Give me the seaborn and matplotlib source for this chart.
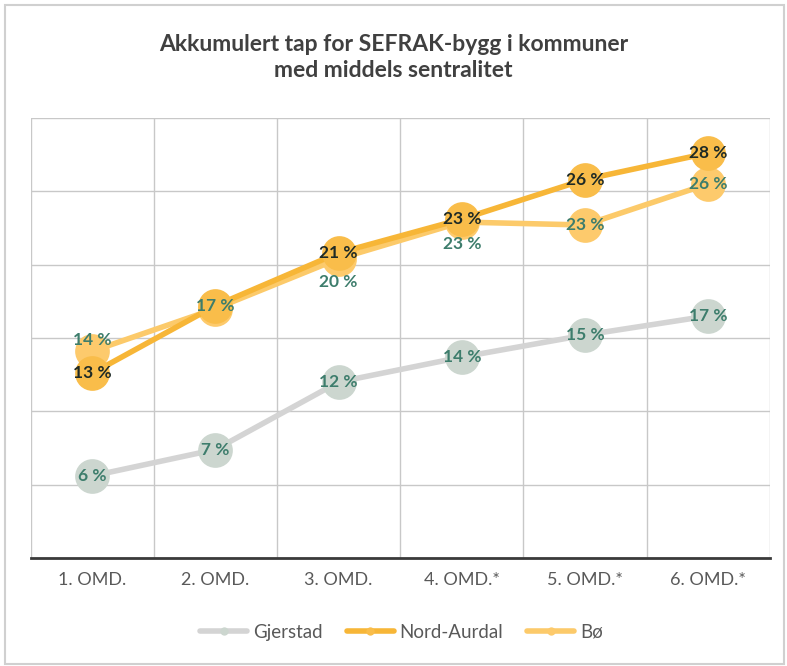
import seaborn as sns
import pandas as pd
import matplotlib.pyplot as plt
from matplotlib.lines import Line2D
from matplotlib.patches import Rectangle

# Data
categories = ["1. OMD.", "2. OMD.", "3. OMD.", "4. OMD.*", "5. OMD.*", "6. OMD.*"]
gjerstad = [5.6, 7.4, 12.0, 13.7, 15.2, 16.5]
nord_aurdal = [12.6, 17.2, 20.8, 23.1, 25.8, 27.6]
bo = [14.1, 17.0, 20.4, 22.9, 22.7, 25.5]
gjerstad_labels = ["6 %", "7 %", "12 %", "14 %", "15 %", "17 %"]
nord_aurdal_labels = ["13 %", "17 %", "21 %", "23 %", "26 %", "28 %"]
bo_labels = ["14 %", "", "20 %", "23 %", "23 %", "26 %"]
# vertical label offsets (points) for Bø where it would collide
bo_offsets = [8, 0, -17, -16, 0, 0]

sns.set_theme(style="white")
plt.rcParams['font.family'] = ['Lato', 'DejaVu Sans']

series = {"Gjerstad": gjerstad, "Nord-Aurdal": nord_aurdal, "Bø": bo}
line_colors = {"Gjerstad": "#d4d4d4", "Nord-Aurdal": "#f7b637", "Bø": "#fcca6a"}
marker_colors = {"Gjerstad": "#ccd6cf", "Nord-Aurdal": "#f9bd4a", "Bø": "#fdca6c"}

df = pd.DataFrame([
    {"omd": c, "serie": name, "verdi": v}
    for name, vals in series.items() for c, v in zip(categories, vals)
])

fig = plt.figure(figsize=(7.87, 6.66), dpi=100)
ax = fig.add_axes([0.039, 0.162, 0.939, 0.661])

for name in ["Gjerstad", "Bø", "Nord-Aurdal"]:
    sub = df[df["serie"] == name]
    sns.lineplot(data=sub, x="omd", y="verdi", ax=ax, color=line_colors[name],
                 linewidth=4, marker="o", markersize=25,
                 markerfacecolor=marker_colors[name], markeredgewidth=0,
                 sort=False, legend=False, zorder=3 if name != "Gjerstad" else 2)

green = "#3d7d6c"
dark = "#1e2a26"
for i, c in enumerate(categories):
    ax.annotate(gjerstad_labels[i], (i, gjerstad[i]), ha="center", va="center",
                fontsize=12.5, fontweight="bold", color=green, zorder=5)
    ax.annotate(nord_aurdal_labels[i], (i, nord_aurdal[i]), ha="center", va="center",
                fontsize=12.5, fontweight="bold", color=dark if i != 1 else green, zorder=6)
    if bo_labels[i]:
        ax.annotate(bo_labels[i], (i, bo[i]), xytext=(0, bo_offsets[i]),
                    textcoords="offset points", ha="center", va="center",
                    fontsize=12.5, fontweight="bold", color=green, zorder=5)

ax.set_xlim(-0.5, 5.5)
ax.set_ylim(0, 30)
ax.set_yticks(range(0, 31, 5))
ax.set_yticklabels([])
ax.set_xticks([x - 0.5 for x in range(7)], minor=True)
ax.grid(True, which="minor", axis="x", color="#c8c8c8", linewidth=1)
ax.grid(True, which="major", axis="y", color="#c8c8c8", linewidth=1)
ax.tick_params(axis="x", which="both", length=0, pad=10, labelsize=13, labelcolor="#595959")
ax.tick_params(axis="y", length=0)
ax.set_xlabel("")
ax.set_ylabel("")
for s in ["top", "right", "left"]:
    ax.spines[s].set_visible(False)
ax.spines["bottom"].set_color("#3a3a3a")
ax.spines["bottom"].set_linewidth(2)
ax.set_axisbelow(True)

fig.text(0.5, 0.913, "Akkumulert tap for SEFRAK-bygg i kommuner\nmed middels sentralitet",
         ha="center", va="center", fontsize=16.5, fontweight="bold", color="#404040",
         linespacing=1.3)

handles = [Line2D([0], [0], color=line_colors[n], linewidth=4, marker="o",
                  markersize=6, markerfacecolor=marker_colors[n], markeredgewidth=0)
           for n in ["Gjerstad", "Nord-Aurdal", "Bø"]]
fig.legend(handles, ["Gjerstad", "Nord-Aurdal", "Bø"], loc="center",
           bbox_to_anchor=(0.51, 0.051), ncol=3, frameon=False, fontsize=13.5,
           labelcolor="#595959", handlelength=2.5, columnspacing=1.3, handletextpad=0.3)

fig.patches.append(Rectangle((0.006, 0.003), 0.99, 0.99, transform=fig.transFigure,
                             fill=False, edgecolor="#d0d0d0", linewidth=1.5))

fig.savefig("out.png", dpi=100)
